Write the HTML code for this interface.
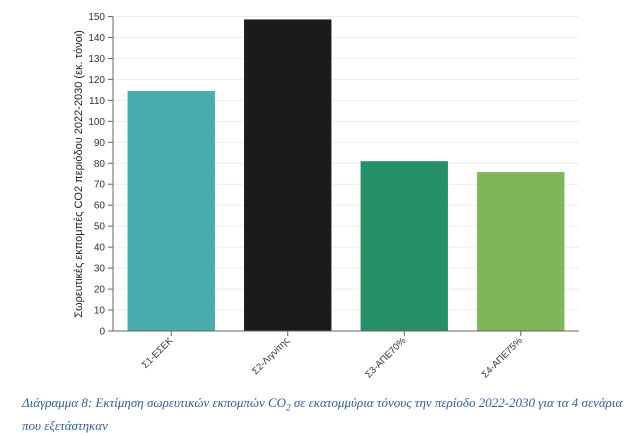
<!DOCTYPE html>
<html><head><meta charset="utf-8"><style>
body{margin:0;width:641px;height:436px;background:#fff;overflow:hidden;font-family:"Liberation Sans",sans-serif}
svg{position:absolute;left:0;top:0}
.cap{position:absolute;left:22px;top:394px;width:610px;font-family:"Liberation Serif","DejaVu Serif",serif;font-style:italic;font-size:13px;line-height:17px;color:#2f5c9e}
</style></head><body>
<svg id="chart" width="641" height="436"></svg>
<div class="cap">Διάγραμμα 8: Εκτίμηση σωρευτικών εκπομπών CO<sub style="font-size:9px">2</sub> σε εκατομμύρια τόνους την περίοδο 2022-2030 για τα 4 σενάρια που εξετάστηκαν</div>
<script>
const categories=["Σ1-ΕΣΕΚ","Σ2-Λιγνίτης","Σ3-ΑΠΕ70%","Σ4-ΑΠΕ75%"];
const values=[114.5,148.6,81,75.8];
const yTicks=[0,10,20,30,40,50,60,70,80,90,100,110,120,130,140,150];
const colors=["#4aadad","#1b1b1b","#259066","#7db75a"];
const svg=document.getElementById('chart');
const NS="http://www.w3.org/2000/svg";
const x0=113,x1=579,y0=331,y1=16.5,ymax=150;
const y=v=>y0-(v/ymax)*(y0-y1);
const band=(x1-x0)/categories.length;
const xc=i=>x0+band*(i+0.5);
function mk(t,a){const e=document.createElementNS(NS,t);for(const k in a)e.setAttribute(k,a[k]);svg.appendChild(e);return e;}
yTicks.forEach(t=>{
  if(t>0){const g=mk('line',{x1:x0,x2:x1,y1:y(t),y2:y(t),stroke:'#eeeeee','stroke-width':1});
  
  }
  const tk=mk('line',{x1:x0-5,x2:x0,y1:y(t),y2:y(t),stroke:'#666'});
  
  
  const l=mk('text',{x:x0-8,y:y(t)+3.5,'text-anchor':'end','font-size':10,fill:'#333'});
  l.textContent=t;
  
  
});
values.forEach((v,i)=>{
  const w=band*0.75;
  const r=mk('rect',{x:xc(i)-w/2,y:y(v),width:w,height:y0-y(v),fill:colors[i]});
  
  
  const tk=mk('line',{x1:xc(i),x2:xc(i),y1:y0,y2:y0+5,stroke:'#666'});
  
  
  const l=mk('text',{x:xc(i)+2,y:y0+10,'text-anchor':'end','font-size':9.5,fill:'#333',transform:`rotate(-45 ${xc(i)+2} ${y0+10})`});
  l.textContent=categories[i];
  
  
});
const ax=mk('line',{x1:x0,x2:x0,y1:y1,y2:y0,stroke:'#666'});


const bx=mk('line',{x1:x0,x2:x1,y1:y0,y2:y0,stroke:'#666'});


const yt=mk('text',{x:82,y:174,'text-anchor':'middle','font-size':11,fill:'#222',transform:'rotate(-90 82 174)'});
yt.textContent='Σωρευτικές εκπομπές CO2 περιόδου 2022-2030 (εκ. τόνοι)';


</script>
</body></html>
